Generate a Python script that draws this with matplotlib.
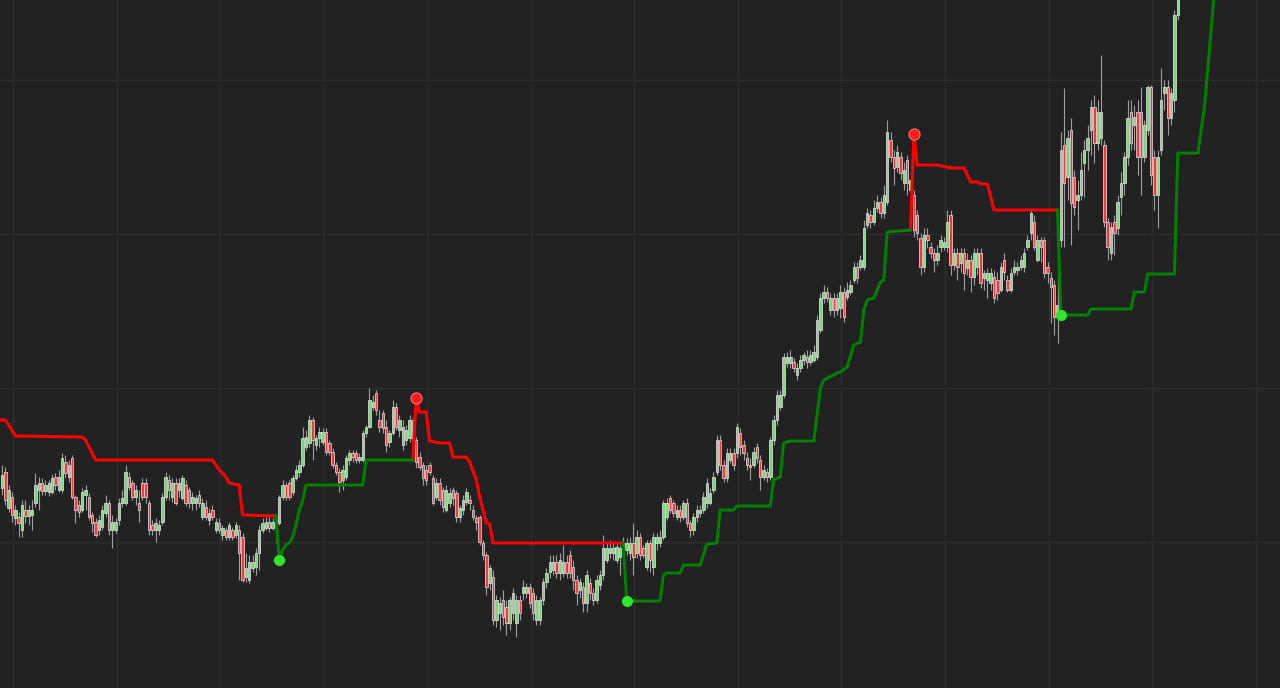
import matplotlib
matplotlib.use("Agg")
import matplotlib.pyplot as plt
import numpy as np

# OHLC candles (price units, one entry per bar)
opens = [
    212, 228, 192, 203, 182, 183, 170, 190, 184, 185,
    197, 210, 217, 209, 208, 208, 223, 210, 210, 238,
    223, 242, 203, 195, 190, 205, 203, 185, 178, 170,
    173, 187, 197, 170, 170, 180, 197, 197, 223, 217,
    203, 197, 217, 217, 197, 175, 170, 170, 178, 203,
    220, 203, 217, 210, 202, 215, 210, 197, 197, 205,
    183, 193, 180, 190, 170, 177, 165, 170, 163, 170,
    165, 170, 163, 123, 120, 132, 133, 147, 170, 172,
    178, 172, 180, 177, 203, 215, 217, 208, 222, 228,
    235, 253, 257, 280, 255, 262, 258, 268, 257, 248,
    235, 228, 220, 223, 240, 247, 247, 240, 240, 267,
    273, 293, 307, 280, 287, 273, 258, 267, 293, 270,
    255, 260, 262, 280, 260, 243, 235, 230, 235, 222,
    203, 217, 210, 190, 197, 210, 207, 183, 190, 198,
    200, 190, 182, 183, 157, 145, 117, 123, 80, 87,
    100, 93, 77, 87, 77, 100, 107, 107, 113, 107,
    80, 80, 100, 118, 128, 130, 138, 127, 127, 138,
    145, 133, 120, 110, 113, 97, 117, 107, 100, 115,
    125, 140, 147, 147, 140, 143, 153, 150, 147, 157,
    147, 163, 152, 133, 157, 133, 157, 157, 163, 183,
    202, 197, 183, 190, 183, 197, 177, 170, 183, 187,
    190, 197, 197, 210, 228, 260, 235, 222, 240, 247,
    247, 267, 255, 242, 235, 235, 253, 240, 223, 228,
    223, 260, 280, 293, 305, 337, 337, 338, 325, 332,
    340, 343, 338, 340, 343, 370, 402, 408, 390, 402,
    390, 392, 408, 403, 408, 420, 433, 433, 433, 475,
    485, 478, 492, 498, 487, 498, 560, 543, 533, 543,
    517, 540, 510, 505, 485, 462, 433, 465, 453, 447,
    440, 453, 453, 453, 485, 435, 447, 437, 447, 432,
    440, 423, 433, 447, 422, 420, 417, 423, 420, 410,
    440, 420, 410, 428, 430, 433, 433, 453, 467, 478,
    440, 460, 460, 433, 422, 415, 383, 460, 555, 523,
    570, 523, 500, 505, 537, 550, 570, 593, 557, 562,
    555, 478, 447, 478, 472, 503, 517, 543, 588, 575,
    588, 588, 543, 570, 613, 543, 505, 550, 607, 613,
    582, 600, 685, 725, 760, 790, 780, 808, 830, 820, 855,
]
highs = [
    235, 233, 215, 208, 195, 188, 200, 200, 195, 200,
    227, 223, 222, 220, 220, 226, 227, 230, 247, 245,
    240, 245, 205, 200, 212, 215, 207, 188, 182, 185,
    195, 205, 200, 185, 182, 202, 210, 235, 228, 220,
    215, 210, 222, 222, 200, 180, 182, 180, 207, 228,
    225, 222, 222, 222, 225, 220, 213, 208, 205, 210,
    202, 200, 192, 195, 182, 182, 175, 173, 178, 173,
    178, 175, 167, 147, 145, 145, 152, 175, 182, 183,
    183, 182, 183, 205, 220, 218, 220, 225, 235, 240,
    273, 270, 285, 283, 265, 273, 272, 272, 260, 252,
    238, 232, 235, 245, 250, 250, 250, 247, 270, 275,
    312, 305, 310, 290, 290, 280, 270, 300, 297, 285,
    280, 275, 285, 282, 263, 248, 238, 235, 238, 225,
    222, 222, 213, 215, 212, 213, 210, 195, 205, 212,
    205, 195, 185, 185, 160, 148, 135, 130, 105, 103,
    110, 100, 103, 112, 105, 105, 120, 117, 117, 112,
    105, 103, 122, 132, 145, 145, 145, 147, 155, 145,
    150, 140, 125, 122, 118, 130, 122, 112, 125, 130,
    165, 157, 160, 157, 157, 155, 163, 162, 163, 177,
    170, 167, 155, 160, 160, 167, 167, 170, 200, 202,
    205, 200, 195, 195, 200, 202, 180, 187, 195, 195,
    208, 222, 212, 228, 265, 265, 240, 252, 252, 252,
    277, 272, 260, 248, 242, 253, 257, 245, 235, 232,
    263, 285, 310, 310, 347, 348, 350, 342, 337, 345,
    348, 350, 350, 355, 385, 407, 415, 413, 407, 407,
    407, 415, 413, 418, 420, 438, 438, 445, 480, 492,
    490, 500, 505, 503, 515, 580, 568, 550, 555, 548,
    538, 545, 528, 510, 490, 467, 472, 472, 458, 452,
    455, 465, 463, 490, 490, 452, 452, 452, 452, 447,
    445, 452, 452, 452, 430, 432, 432, 430, 428, 438,
    447, 425, 432, 440, 438, 445, 452, 465, 490, 485,
    465, 463, 463, 438, 428, 420, 455, 568, 612, 570,
    582, 530, 520, 548, 560, 575, 600, 605, 600, 645,
    560, 482, 478, 485, 505, 528, 548, 600, 600, 595,
    600, 613, 580, 615, 615, 550, 550, 632, 620, 620,
    612, 690, 735, 770, 800, 805, 815, 840, 850, 860, 880,
]
lows = [
    205, 195, 188, 178, 175, 163, 163, 177, 175, 170,
    193, 190, 205, 205, 204, 206, 210, 208, 207, 222,
    218, 201, 177, 183, 188, 190, 180, 168, 163, 165,
    170, 183, 165, 152, 167, 175, 193, 195, 210, 200,
    195, 178, 200, 197, 165, 165, 158, 165, 175, 200,
    200, 198, 195, 203, 200, 194, 192, 190, 190, 193,
    180, 180, 175, 180, 167, 167, 160, 160, 160, 160,
    162, 120, 118, 118, 117, 128, 125, 130, 167, 170,
    168, 170, 157, 175, 200, 200, 200, 205, 220, 223,
    233, 250, 253, 240, 250, 253, 255, 245, 245, 232,
    225, 208, 210, 220, 235, 238, 237, 237, 238, 263,
    272, 290, 285, 268, 267, 248, 253, 265, 270, 263,
    250, 255, 258, 255, 232, 230, 215, 215, 225, 195,
    200, 195, 188, 188, 193, 195, 178, 178, 185, 195,
    190, 180, 170, 155, 140, 105, 110, 75, 73, 70,
    75, 65, 70, 80, 63, 80, 100, 102, 92, 80,
    75, 75, 95, 112, 122, 125, 122, 120, 123, 122,
    122, 110, 95, 102, 88, 88, 100, 95, 97, 110,
    120, 137, 142, 140, 137, 125, 150, 145, 140, 125,
    142, 140, 142, 130, 128, 125, 150, 153, 160, 180,
    187, 183, 180, 178, 180, 173, 163, 165, 178, 183,
    187, 192, 195, 207, 225, 230, 218, 218, 237, 230,
    242, 245, 240, 230, 220, 232, 237, 210, 220, 218,
    220, 255, 275, 290, 302, 333, 332, 328, 320, 328,
    335, 332, 335, 338, 340, 367, 397, 398, 385, 383,
    385, 382, 378, 400, 405, 417, 417, 430, 430, 472,
    472, 475, 488, 482, 482, 495, 538, 515, 528, 520,
    510, 505, 500, 463, 460, 425, 428, 452, 442, 428,
    435, 448, 450, 448, 425, 430, 420, 428, 410, 425,
    408, 415, 425, 412, 410, 402, 410, 397, 400, 408,
    420, 408, 408, 425, 425, 430, 428, 450, 460, 450,
    438, 438, 422, 417, 377, 365, 357, 453, 453, 500,
    455, 485, 470, 500, 503, 530, 545, 537, 550, 555,
    473, 440, 440, 445, 465, 485, 505, 535, 550, 550,
    525, 505, 538, 565, 515, 490, 472, 545, 590, 565,
    575, 588, 680, 715, 745, 770, 772, 800, 812, 815, 845,
]
closes = [
    225, 200, 210, 185, 190, 177, 195, 184, 190, 190,
    215, 217, 209, 215, 217, 222, 215, 223, 242, 227,
    235, 203, 190, 188, 208, 210, 183, 177, 165, 180,
    190, 197, 170, 178, 178, 197, 202, 228, 213, 203,
    210, 190, 203, 203, 170, 170, 177, 175, 203, 223,
    210, 217, 197, 217, 222, 197, 197, 203, 202, 197,
    197, 183, 187, 183, 178, 170, 172, 163, 175, 163,
    175, 147, 120, 132, 138, 138, 147, 170, 177, 178,
    172, 178, 173, 203, 215, 203, 203, 222, 230, 235,
    262, 263, 280, 260, 262, 268, 268, 248, 248, 235,
    228, 218, 230, 242, 247, 243, 240, 243, 267, 273,
    300, 298, 290, 273, 272, 255, 267, 293, 273, 280,
    273, 270, 280, 260, 238, 233, 222, 220, 228, 197,
    217, 200, 193, 210, 207, 202, 183, 192, 200, 208,
    197, 183, 178, 158, 145, 113, 132, 80, 100, 97,
    83, 77, 100, 107, 100, 87, 113, 113, 97, 87,
    100, 100, 118, 127, 138, 138, 127, 140, 138, 127,
    127, 120, 107, 118, 97, 125, 107, 100, 120, 125,
    152, 152, 152, 152, 153, 152, 157, 157, 157, 143,
    163, 145, 145, 157, 140, 163, 163, 163, 197, 197,
    190, 187, 190, 183, 197, 177, 170, 183, 190, 190,
    203, 217, 207, 223, 260, 235, 222, 247, 247, 235,
    273, 253, 247, 235, 233, 248, 242, 223, 230, 223,
    260, 280, 305, 305, 343, 343, 343, 332, 332, 340,
    345, 338, 345, 348, 380, 402, 408, 402, 402, 390,
    402, 408, 383, 410, 415, 433, 422, 440, 472, 487,
    478, 492, 498, 487, 505, 568, 543, 532, 548, 527,
    530, 517, 520, 470, 467, 433, 465, 460, 447, 440,
    447, 460, 458, 478, 435, 447, 433, 447, 427, 440,
    423, 447, 447, 417, 427, 427, 427, 402, 407, 433,
    428, 410, 427, 433, 433, 440, 447, 460, 487, 453,
    460, 453, 427, 427, 413, 383, 395, 550, 517, 562,
    497, 493, 505, 530, 550, 562, 593, 557, 588, 588,
    478, 453, 473, 467, 498, 517, 543, 582, 557, 583,
    543, 543, 575, 613, 525, 505, 543, 600, 613, 582,
    607, 685, 725, 760, 790, 780, 808, 830, 820, 855, 870,
]

# trailing stop, split by trend (bar index, stop level)
short_stop_1_bars = [-1, 1, 4, 24, 25, 28, 63, 65, 66, 67, 68, 71, 72, 82]
short_stop_1 = [280, 280, 264, 263, 260, 240, 240, 230, 227, 223, 217, 215, 185, 184]
long_stop_1_bars = [82, 83, 84, 85, 86, 87, 88, 89, 90, 91, 108, 109, 123]
long_stop_1 = [184, 140, 150, 155, 157, 163, 175, 190, 199, 215, 215, 240, 240]
short_stop_2_bars = [123, 124, 125, 127, 128, 131, 134, 135, 139, 140, 142, 143, 145, 146, 147, 186]
short_stop_2 = [240, 302, 288, 288, 259, 257, 257, 243, 243, 238, 220, 203, 177, 176, 157, 157]
long_stop_2_bars = [186, 187, 197, 198, 199, 203, 204, 209, 211, 214, 215, 219, 220, 230, 231,
                    233, 234, 236, 243, 244, 245, 246, 250, 251, 253, 255, 257, 258, 259, 261,
                    263, 264, 265, 272]
long_stop_2 = [157, 99, 99, 125, 127, 127, 135, 135, 156, 157, 190, 190, 194, 194, 220,
               223, 257, 259, 259, 285, 312, 320, 327, 328, 333, 355, 358, 390, 400, 402,
               418, 420, 468, 470]
short_stop_3_bars = [272, 273, 274, 280, 284, 288, 290, 292, 293, 295, 297, 316]
short_stop_3 = [470, 566, 535, 535, 532, 532, 518, 518, 516, 516, 490, 490]
long_stop_3_bars = [316, 317, 325, 326, 338, 339, 342, 343, 351, 352, 358, 360, 363]
long_stop_3 = [490, 385, 385, 391, 391, 408, 408, 426, 426, 547, 547, 593, 710]

o = np.array(opens)
h = np.array(highs)
l = np.array(lows)
c = np.array(closes)
bars = np.arange(len(c))
up = c >= o

bg = "#222222"
fig = plt.figure(figsize=(12.8, 6.88), dpi=100)
fig.patch.set_facecolor(bg)
ax = fig.add_axes([0, 0, 1, 1])
ax.set_facecolor(bg)

# candles
ax.vlines(bars, l, h, color="#a0a0a0", linewidth=0.8, zorder=2)
ax.bar(bars[up], (c - o)[up], bottom=o[up], width=0.74, color="#7ad67a",
       edgecolor="#e0e0e0", linewidth=0.55, zorder=3)
ax.bar(bars[~up], (o - c)[~up], bottom=c[~up], width=0.74, color="#ff3434",
       edgecolor="#e0e0e0", linewidth=0.55, zorder=3)

# stop lines
for xs, ys in [(short_stop_1_bars, short_stop_1), (short_stop_2_bars, short_stop_2),
               (short_stop_3_bars, short_stop_3)]:
    ax.plot(xs, ys, color="#ff0000", linewidth=2.2, solid_joinstyle="round", zorder=4)
for xs, ys in [(long_stop_1_bars, long_stop_1), (long_stop_2_bars, long_stop_2),
               (long_stop_3_bars, long_stop_3)]:
    ax.plot(xs, ys, color="#008000", linewidth=2.2, solid_joinstyle="round", zorder=4)

# trend switch markers
for xs, ys in [(long_stop_1_bars, long_stop_1), (long_stop_2_bars, long_stop_2),
               (long_stop_3_bars, long_stop_3)]:
    ax.plot(xs[1], ys[1], "o", color="#2ee82e", markersize=8, markeredgewidth=0, zorder=5)
for xs, ys in [(short_stop_2_bars, short_stop_2), (short_stop_3_bars, short_stop_3)]:
    ax.plot(xs[1], ys[1], "o", color="#ff1c1c", markeredgecolor="#ff7070",
            markersize=8, markeredgewidth=0.8, zorder=5)

ax.set_xlim(-0.6, 382.6)
ax.set_ylim(12, 700)
ax.set_xticks(np.arange(3.3, 383, 31))
ax.set_yticks([158, 312, 466, 620])
ax.grid(True, color="#2e2e2e", linewidth=1.0, zorder=0)
ax.tick_params(length=0, labelbottom=False, labelleft=False)
for s in ax.spines.values():
    s.set_visible(False)

fig.savefig("out.png", dpi=100, facecolor=bg)
